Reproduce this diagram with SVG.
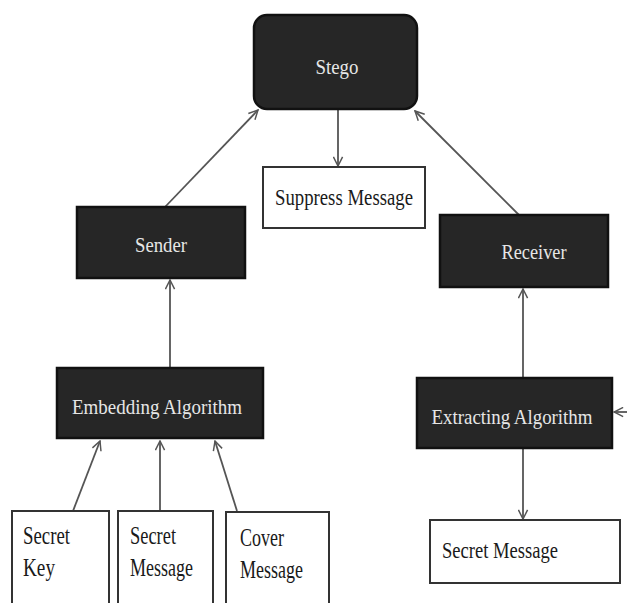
<svg xmlns="http://www.w3.org/2000/svg" width="627" height="603" viewBox="0 0 627 603">
<defs>
<style>
.dark{fill:#262626;stroke:#111;stroke-width:2.5}
.light{fill:#fff;stroke:#333;stroke-width:2}
.tl{font-family:"Liberation Serif","Times New Roman",serif;font-size:22px;fill:#e6e6e6}
.td{font-family:"Liberation Serif","Times New Roman",serif;font-size:23px;fill:#1a1a1a}
.tb{font-family:"Liberation Serif","Times New Roman",serif;font-size:25px;fill:#1a1a1a}
.ln{stroke:#555;stroke-width:1.8;fill:none;marker-end:url(#ah)}
</style>
<marker id="ah" viewBox="0 0 12 12" refX="11" refY="6" markerWidth="11" markerHeight="11" markerUnits="userSpaceOnUse" orient="auto">
<path d="M1,1 L11,6 L1,11" fill="none" stroke="#555" stroke-width="1.6"/>
</marker>
</defs>
<rect width="627" height="603" fill="#fff"/>
<g id="connectors">
<line class="ln" x1="338" y1="110" x2="338" y2="166"/>
<line class="ln" x1="165" y1="207" x2="258" y2="110"/>
<line class="ln" x1="520" y1="216" x2="415" y2="111"/>
<line class="ln" x1="170" y1="368" x2="170" y2="280"/>
<line class="ln" x1="523" y1="378" x2="523" y2="289"/>
<line class="ln" x1="627" y1="412" x2="614" y2="412"/>
<line class="ln" x1="523" y1="449" x2="523" y2="519"/>
<line class="ln" x1="73" y1="511" x2="100" y2="441"/>
<line class="ln" x1="160" y1="511" x2="160" y2="441"/>
<line class="ln" x1="237" y1="511" x2="215" y2="441"/>
</g>
<g id="stego">
<rect class="dark" x="254" y="15" width="163" height="94" rx="13"/>
<text class="tl" x="337" y="74" text-anchor="middle" textLength="43" lengthAdjust="spacingAndGlyphs">Stego</text>
</g>
<g id="suppress">
<rect class="light" x="263" y="167" width="162" height="61"/>
<text class="td" x="344" y="205" text-anchor="middle" textLength="138" lengthAdjust="spacingAndGlyphs">Suppress Message</text>
</g>
<g id="sender">
<rect class="dark" x="77" y="207" width="168" height="71"/>
<text class="tl" x="161" y="252" text-anchor="middle" textLength="52" lengthAdjust="spacingAndGlyphs">Sender</text>
</g>
<g id="receiver">
<rect class="dark" x="440" y="215" width="168" height="72"/>
<text class="tl" x="534" y="259" text-anchor="middle" textLength="65" lengthAdjust="spacingAndGlyphs">Receiver</text>
</g>
<g id="embedding">
<rect class="dark" x="57" y="368" width="206" height="70"/>
<text class="tl" x="157" y="414" text-anchor="middle" textLength="170" lengthAdjust="spacingAndGlyphs">Embedding Algorithm</text>
</g>
<g id="extracting">
<rect class="dark" x="417" y="378" width="195" height="70"/>
<text class="tl" x="512" y="424" text-anchor="middle" textLength="161" lengthAdjust="spacingAndGlyphs">Extracting Algorithm</text>
</g>
<g id="secret-message-out">
<rect class="light" x="430" y="520" width="190" height="63"/>
<text class="td" x="442" y="558" textLength="116" lengthAdjust="spacingAndGlyphs">Secret Message</text>
</g>
<g id="secret-key">
<rect class="light" x="12" y="511" width="97" height="100"/>
<text class="tb" x="23" y="544" textLength="47" lengthAdjust="spacingAndGlyphs">Secret</text>
<text class="tb" x="23" y="576" textLength="32" lengthAdjust="spacingAndGlyphs">Key</text>
</g>
<g id="secret-message-in">
<rect class="light" x="118" y="511" width="95" height="100"/>
<text class="tb" x="130" y="544" textLength="46" lengthAdjust="spacingAndGlyphs">Secret</text>
<text class="tb" x="130" y="576" textLength="63" lengthAdjust="spacingAndGlyphs">Message</text>
</g>
<g id="cover-message">
<rect class="light" x="226" y="512" width="103" height="100"/>
<text class="tb" x="240" y="546" textLength="44" lengthAdjust="spacingAndGlyphs">Cover</text>
<text class="tb" x="240" y="578" textLength="63" lengthAdjust="spacingAndGlyphs">Message</text>
</g>
</svg>
